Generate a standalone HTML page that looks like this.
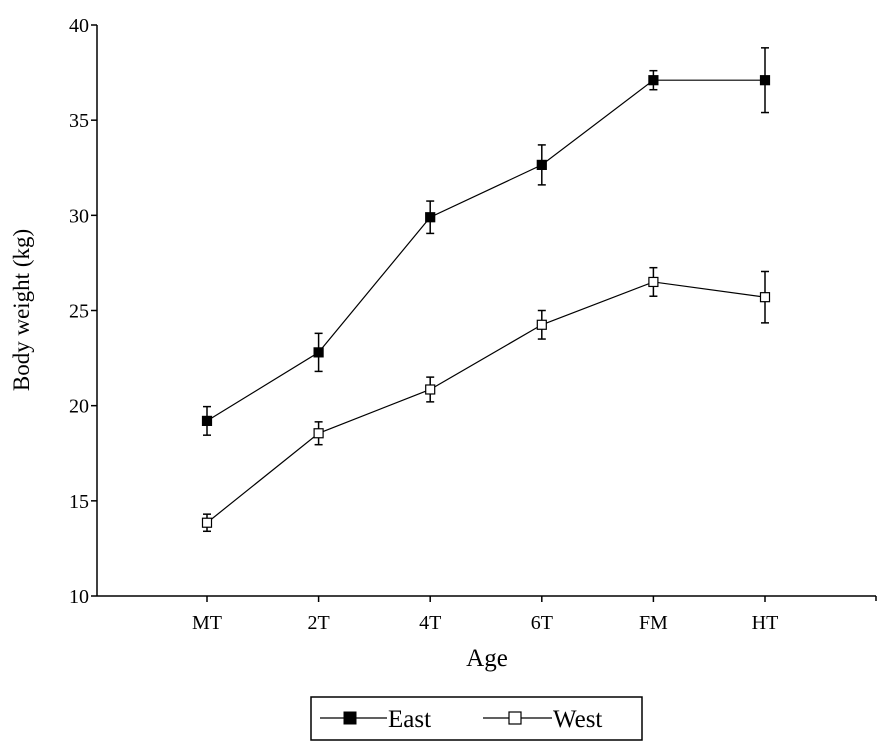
<!DOCTYPE html>
<html><head><meta charset="utf-8"><style>
body{margin:0;background:#fff;}
svg{display:block;font-family:"Liberation Serif",serif;}
</style></head><body>
<svg id="chart" width="886" height="746" viewBox="0 0 886 746"></svg>
<script>
const categories=["MT","2T","4T","6T","FM","HT"];
const eastValues=[19.2,22.8,29.9,32.65,37.1,37.1];
const eastErrors=[0.75,1.0,0.85,1.05,0.5,1.7];
const westValues=[13.85,18.55,20.85,24.25,26.5,25.7];
const westErrors=[0.45,0.6,0.65,0.75,0.75,1.35];
const yTicks=[10,15,20,25,30,35,40];
const svg=document.getElementById('chart');
const NS='http://www.w3.org/2000/svg';
const x0=97,x1=876,yTop=25,yBot=596;
const xs=i=>207+i*111.6;
const ys=v=>yBot-(v-10)/30*(yBot-yTop);
function mk(tag,attrs,parent){const e=document.createElementNS(NS,tag);for(const k in attrs)e.setAttribute(k,attrs[k]);(parent||svg).appendChild(e);return e;}
const ax=mk('g',{});


mk('line',{x1:x0,y1:yTop,x2:x0,y2:yBot,stroke:'#000','stroke-width':1.5},ax);
mk('line',{x1:x0,y1:yBot,x2:x1,y2:yBot,stroke:'#000','stroke-width':1.5},ax);
mk('line',{x1:x1,y1:yBot,x2:x1,y2:yBot+5,stroke:'#000','stroke-width':1.5},ax);
yTicks.forEach(v=>{
 mk('line',{x1:x0-6,y1:ys(v),x2:x0,y2:ys(v),stroke:'#000','stroke-width':1.5},ax);
 const t=mk('text',{x:x0-8,y:ys(v)+7,'text-anchor':'end','font-size':20},ax);t.textContent=v;
 
 
});
categories.forEach((c,i)=>{
 mk('line',{x1:xs(i),y1:yBot,x2:xs(i),y2:yBot+6,stroke:'#000','stroke-width':1.5},ax);
 const t=mk('text',{x:xs(i),y:yBot+33,'text-anchor':'middle','font-size':20},ax);t.textContent=c;
 
 
});
const yl=mk('text',{x:0,y:0,transform:'translate(29,310) rotate(-90)','text-anchor':'middle','font-size':23});
yl.textContent='Body weight (kg)';


const xl=mk('text',{x:487,y:666,'text-anchor':'middle','font-size':25});
xl.textContent='Age';


function series(vals,errs,fill,name){
 const g=mk('g',{});
 
 
 mk('polyline',{points:vals.map((v,i)=>xs(i)+','+ys(v)).join(' '),fill:'none',stroke:'#000','stroke-width':1.2},g);
 vals.forEach((v,i)=>{
  const x=xs(i);
  mk('line',{x1:x,y1:ys(v+errs[i]),x2:x,y2:ys(v-errs[i]),stroke:'#000','stroke-width':1.5},g);
  mk('line',{x1:x-4,y1:ys(v+errs[i]),x2:x+4,y2:ys(v+errs[i]),stroke:'#000','stroke-width':1.5},g);
  mk('line',{x1:x-4,y1:ys(v-errs[i]),x2:x+4,y2:ys(v-errs[i]),stroke:'#000','stroke-width':1.5},g);
  const r=mk('rect',{x:x-4.5,y:ys(v)-4.5,width:9,height:9,fill:fill,stroke:'#000','stroke-width':1.2},g);
  
  
 });
}
series(eastValues,eastErrors,'#000','east');
series(westValues,westErrors,'#fff','west');
const lg=mk('g',{});


mk('rect',{x:311,y:697,width:331,height:43,fill:'#fff',stroke:'#000','stroke-width':1.5},lg);
mk('line',{x1:320,y1:718,x2:387,y2:718,stroke:'#000','stroke-width':1.2},lg);
mk('rect',{x:344,y:712,width:12,height:12,fill:'#000',stroke:'#000'},lg);
const le=mk('text',{x:388,y:727,'font-size':25},lg);le.textContent='East';


mk('line',{x1:483,y1:718,x2:552,y2:718,stroke:'#000','stroke-width':1.2},lg);
mk('rect',{x:509,y:712,width:12,height:12,fill:'#fff',stroke:'#000','stroke-width':1.2},lg);
const lw=mk('text',{x:553,y:727,'font-size':25},lg);lw.textContent='West';


</script>
</body></html>
